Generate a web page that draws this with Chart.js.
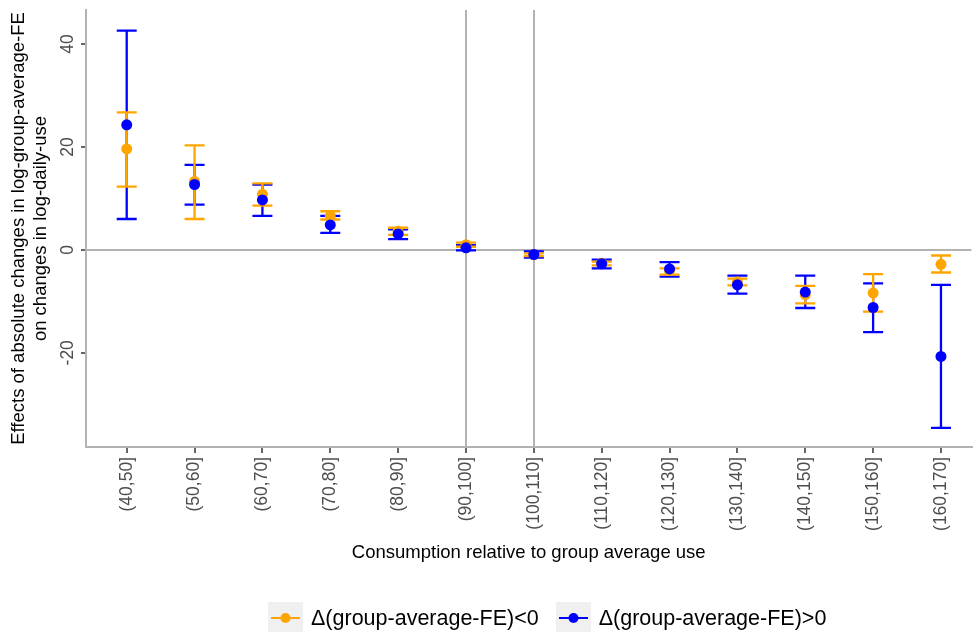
<!DOCTYPE html>
<html>
<head>
<meta charset="utf-8">
<script src="https://cdn.jsdelivr.net/npm/chart.js@4.4.1/dist/chart.umd.min.js"></script>
<style>
  body { margin: 0; background: #fff; }
  #wrap { position: relative; width: 977px; height: 632px; }
  #legend { position: absolute; left: 268px; top: 602px; display: flex; align-items: center;
            font-family: "Liberation Sans", Arial, sans-serif; font-size: 21.5px; color: #000; }
  .item { display: flex; align-items: center; margin-right: 17px; }
  .key { width: 35px; height: 32px; background: #F0F0F0; margin-right: 8px; }
</style>
</head>
<body>
<div id="wrap">
  <canvas id="myChart"></canvas>
  <div id="legend"></div>
</div>
<script>
// Categorias del eje x
const categorias = ["(40,50]", "(50,60]", "(60,70]", "(70,80]", "(80,90]", "(90,100]", "(100,110]",
  "(110,120]", "(120,130]", "(130,140]", "(140,150]", "(150,160]", "(160,170]"];

// Δ(group-average-FE)<0  (naranja)
const negEst  = [19.6, 13.3, 10.8, 6.6, 3.6, 1.0, -0.95, -2.6, -4.0, -6.2, -8.7, -8.4, -2.8];
const negLow  = [12.3, 6.0, 8.6, 5.9, 2.9, 0.6, -1.2, -3.0, -4.8, -6.9, -10.4, -12.0, -4.4];
const negHigh = [26.7, 20.3, 12.9, 7.5, 4.3, 1.4, -0.7, -2.3, -3.6, -5.6, -7.0, -4.7, -1.1];

// Δ(group-average-FE)>0  (azul)
const posEst  = [24.3, 12.7, 9.7, 4.85, 3.1, 0.4, -0.9, -2.7, -3.7, -6.8, -8.2, -11.2, -20.7];
const posLow  = [6.0, 8.8, 6.6, 3.3, 2.1, -0.1, -1.5, -3.6, -5.2, -8.5, -11.3, -16.0, -34.6];
const posHigh = [42.6, 16.5, 12.7, 6.6, 4.0, 0.9, -0.3, -1.9, -2.4, -5.0, -5.0, -6.5, -6.8];

const yTicks = [-20, 0, 20, 40];
const lineasVerticales = [5, 6];

const fuente = "'Liberation Sans', Arial, sans-serif";
const gris = "#B3B3B3";

const aPuntos = arr => arr.map((v, i) => ({x: i, y: v}));

// Barras de error dibujadas con las escalas del grafico
const errorBars = {
  id: "errorBars",
  beforeDatasetsDraw(chart) {
    const {ctx, scales: {x, y}} = chart;
    ctx.save();
    ctx.lineWidth = 2.3;
    [1, 0].forEach(di => {
      const ds = chart.data.datasets[di];
      ctx.strokeStyle = ds.backgroundColor;
      ds.low.forEach((lo, i) => {
        const px = x.getPixelForValue(i);
        const y1 = y.getPixelForValue(lo);
        const y2 = y.getPixelForValue(ds.high[i]);
        ctx.beginPath();
        ctx.moveTo(px, y1); ctx.lineTo(px, y2);
        ctx.moveTo(px - 10, y1); ctx.lineTo(px + 10, y1);
        ctx.moveTo(px - 10, y2); ctx.lineTo(px + 10, y2);
        ctx.stroke();
      });
    });
    ctx.restore();
  },
  afterDraw(chart) {
    // etiquetas del eje y giradas, como en el original
    const {ctx, scales: {y}} = chart;
    ctx.save();
    ctx.fillStyle = "#4D4D4D";
    ctx.font = "17.5px " + fuente;
    ctx.textAlign = "center";
    ctx.textBaseline = "middle";
    yTicks.forEach(v => {
      ctx.save();
      ctx.translate(68, y.getPixelForValue(v));
      ctx.rotate(-Math.PI / 2);
      ctx.fillText(String(v), 0, 0);
      ctx.restore();
    });
    ctx.restore();
  }
};

const ctx = document.getElementById("myChart").getContext("2d");
const myChart = new Chart(ctx, {
  type: "scatter",
  data: {
    datasets: [
      {
        label: "Δ(group-average-FE)<0",
        data: aPuntos(negEst),
        low: negLow,
        high: negHigh,
        backgroundColor: "#FFA500",
        pointRadius: 5.5,
        pointBorderWidth: 0,
        order: 1
      },
      {
        label: "Δ(group-average-FE)>0",
        data: aPuntos(posEst),
        low: posLow,
        high: posHigh,
        backgroundColor: "#0000FF",
        pointRadius: 5.5,
        pointBorderWidth: 0,
        order: 0
      }
    ]
  },
  options: {
    responsive: true,
    maintainAspectRatio: false,
    animation: false,
    layout: {padding: {top: 10, right: 0, bottom: 68, left: 0}},
    plugins: {legend: {display: false}, tooltip: {enabled: false}},
    scales: {
      x: {
        type: "linear",
        min: -0.6,
        max: 12.45,
        border: {color: gris, width: 2},
        grid: {
          color: c => lineasVerticales.includes(c.tick && c.tick.value) ? gris : "rgba(0,0,0,0)",
          lineWidth: 2,
          tickColor: "#333333",
          tickWidth: 1.5,
          tickLength: 6
        },
        ticks: {
          stepSize: 1,
          includeBounds: false,
          autoSkip: false,
          minRotation: 90,
          maxRotation: 90,
          padding: 4,
          color: "#4D4D4D",
          font: {family: fuente, size: 17.5},
          callback: v => categorias[v]
        },
        title: {
          display: true,
          text: "Consumption relative to group average use",
          color: "#000",
          font: {family: fuente, size: 18.5},
          padding: {top: 2, bottom: 0}
        },
        afterFit: s => { s.height = 117; s.paddingLeft = 0; s.paddingRight = 0; }
      },
      y: {
        min: -38.3,
        max: 46.6,
        border: {color: gris, width: 2},
        grid: {
          color: c => (c.tick && c.tick.value === 0) ? gris : "rgba(0,0,0,0)",
          lineWidth: 2,
          tickColor: "#333333",
          tickWidth: 1.5,
          tickLength: 5
        },
        ticks: {stepSize: 20, includeBounds: false, display: false},
        title: {
          display: true,
          text: ["Effects of absolute changes in log-group-average-FE", "on changes in log-daily-use"],
          color: "#000",
          font: {family: fuente, size: 18.5, lineHeight: 1.2},
          padding: {top: 8, bottom: 0}
        },
        afterFit: s => { s.width = 86; s.paddingTop = 0; s.paddingBottom = 0; }
      }
    }
  },
  plugins: [errorBars]
});

// Leyenda en HTML a partir de los datasets
const leyenda = document.getElementById("legend");
myChart.data.datasets.forEach(ds => {
  const item = document.createElement("div");
  item.className = "item";
  const key = document.createElement("canvas");
  key.className = "key";
  key.width = 35; key.height = 32;
  const k = key.getContext("2d");
  k.fillStyle = "#F0F0F0"; k.fillRect(0, 0, 35, 32);
  k.strokeStyle = ds.backgroundColor; k.lineWidth = 2;
  k.beginPath(); k.moveTo(3, 16); k.lineTo(32, 16); k.stroke();
  k.fillStyle = ds.backgroundColor;
  k.beginPath(); k.arc(17.5, 16, 5, 0, Math.PI * 2); k.fill();
  const txt = document.createElement("span");
  txt.textContent = ds.label;
  item.appendChild(key);
  item.appendChild(txt);
  leyenda.appendChild(item);
});
</script>
</body>
</html>
